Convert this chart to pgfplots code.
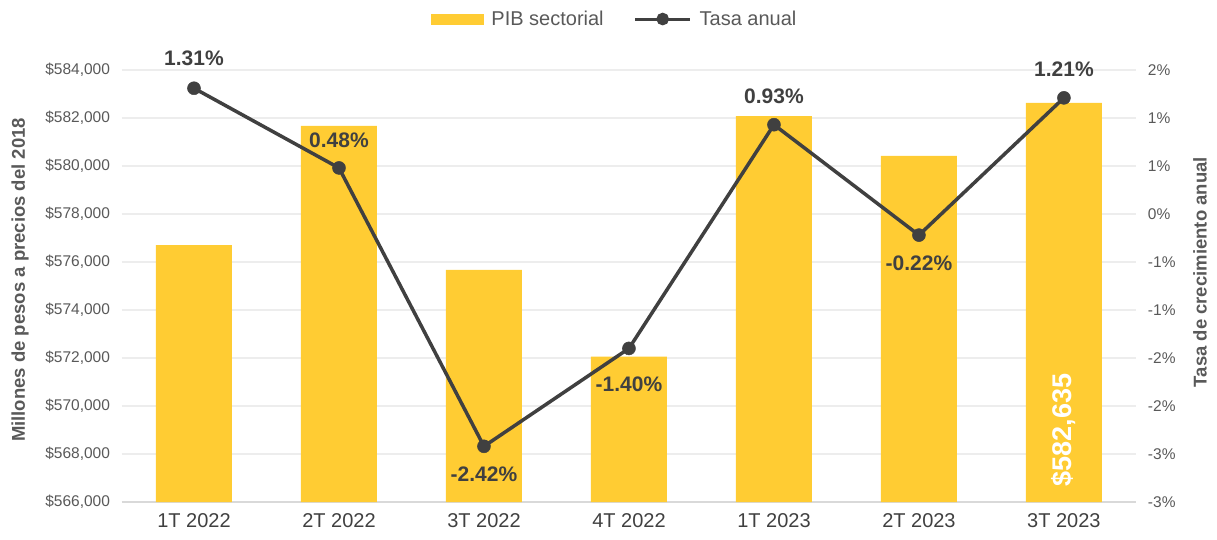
\documentclass[border=0pt]{standalone}
\usepackage{fontspec}
\setmainfont{Liberation Sans}
\usepackage{pgfplots}
\pgfplotsset{compat=1.18}
\usepackage{pgfplotstable}

\definecolor{barc}{HTML}{FFCC33}
\definecolor{linec}{HTML}{404040}
\definecolor{tickc}{HTML}{595959}
\definecolor{gridc}{HTML}{EDEDED}
\definecolor{axisc}{HTML}{D9D9D9}

% PIB sectorial (millones de pesos a precios del 2018)
\pgfplotstableread{
x pib
0 576708
1 581667
2 575667
3 572055
4 582083
5 580417
6 582635
}\pib

% Tasa anual (%), label text and vertical offset of the label
\pgfplotstableread{
x tasa lab pos
0 1.31 1.31 30
1 0.48 0.48 28
2 -2.42 -2.42 -28
3 -1.40 -1.40 -36
4 0.93 0.93 28
5 -0.22 -0.22 -28
6 1.21 1.21 29
}\tasa

\begin{document}
\begin{tikzpicture}
\pgfplotsset{
  base/.style={
    at={(121.5pt,37pt)}, anchor=south west,
    scale only axis, width=1015pt, height=432pt,
    xmin=-0.5, xmax=6.5,
    major tick length=0pt,
    /pgf/number format/assume math mode=true,
  }
}
\begin{axis}[
    base,
    ybar, bar width=76pt,
    ymin=566000, ymax=584000,
    ytick={566000,568000,570000,572000,574000,576000,578000,580000,582000,584000},
    scaled y ticks=false,
    yticklabel={\$\pgfmathprintnumber[fixed,precision=0,1000 sep={,}]{\tick}},
    xtick={0,...,6},
    xticklabels={1T 2022,2T 2022,3T 2022,4T 2022,1T 2023,2T 2023,3T 2023},
    axis x line*=bottom, axis y line*=left,
    x axis line style={draw=axisc, line width=1.5pt},
    y axis line style={draw=none},
    ymajorgrids, grid style={draw=gridc, line width=1.5pt},
    yticklabel style={font=\fontsize{15.5}{18}\selectfont, text=tickc, xshift=-8pt},
    xticklabel style={font=\fontsize{20}{24}\selectfont, text=linec, yshift=-8pt},
    ylabel={Millones de pesos a precios del 2018},
    every axis y label/.style={at={(axis description cs:-0.1,0.514)}, anchor=center, rotate=90,
      font=\bfseries\fontsize{18.5}{22}\selectfont, text=tickc},
  ]
  \addplot[fill=barc, draw=none] table[x=x, y=pib]{\pib};
  \node[rotate=90, text=white, font=\bfseries\fontsize{27}{30}\selectfont] at (axis cs:6,569000) {\$582,635};
\end{axis}

\begin{axis}[
    base,
    ymin=-3, ymax=1.5,
    axis x line=none, axis y line*=right,
    y axis line style={draw=none},
    ytick={-3,-2.5,-2,-1.5,-1,-0.5,0,0.5,1,1.5},
    yticklabels={-3\%,-3\%,-2\%,-2\%,-1\%,-1\%,0\%,1\%,1\%,2\%},
    yticklabel style={font=\fontsize{15.5}{18}\selectfont, text=tickc, xshift=8pt},
    ylabel={Tasa de crecimiento anual},
    every axis y label/.style={at={(axis description cs:1.0626,0.532)}, anchor=center, rotate=90,
      font=\bfseries\fontsize{18.5}{22}\selectfont, text=tickc},
    legend style={at={(axis description cs:0.486,1.118)}, anchor=center, draw=none, fill=none,
      legend columns=2, font=\fontsize{20}{24}\selectfont, text=tickc,
      /tikz/every odd column/.append style={column sep=6pt},
      /tikz/every even column/.append style={column sep=28pt}},
    legend cell align=left,
  ]
  \addlegendimage{legend image code/.code={\fill[barc] (0pt,-5pt) rectangle (52pt,5pt);}}
  \addlegendentry{PIB sectorial}
  \addplot[linec, line width=3.5pt, mark=*, mark size=6.5pt,
    mark options={solid, fill=linec, draw=linec, line width=0.5pt},
    legend image code/.code={\draw[linec, line width=3pt] (0pt,0pt) -- (55pt,0pt);
      \fill[linec] (27.5pt,0pt) circle (4.5pt);},
    point meta=explicit symbolic,
    visualization depends on={\thisrow{pos}\as\pos},
    nodes near coords={\pgfplotspointmeta\%},
    every node near coord/.append style={font=\bfseries\fontsize{21}{24}\selectfont,
      text=linec, anchor=center, yshift=\pos},
  ] table[x=x, y=tasa, meta=lab]{\tasa};
  \addlegendentry{Tasa anual}
\end{axis}
\pgfresetboundingbox
\path (0pt,0pt) rectangle (1217pt,539pt);
\end{tikzpicture}
\end{document}
